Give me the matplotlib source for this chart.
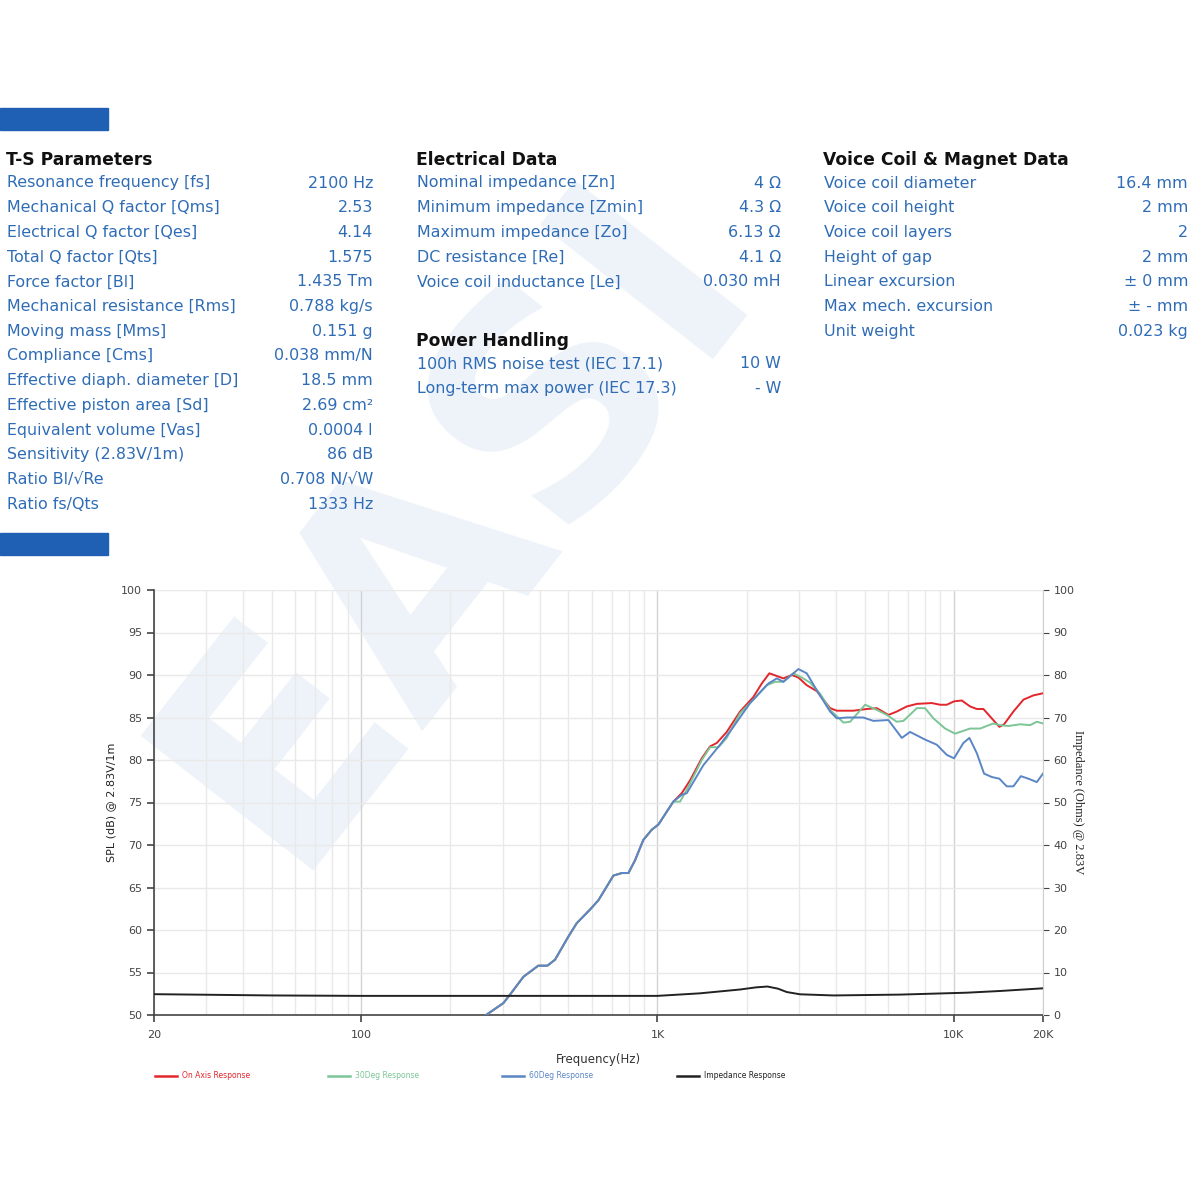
import numpy as np
import matplotlib
matplotlib.use("Agg")
from matplotlib import pyplot as plt
from matplotlib.lines import Line2D

# ---- data ----
ts_labels = ["Resonance frequency [fs]", "Mechanical Q factor [Qms]", "Electrical Q factor [Qes]",
             "Total Q factor [Qts]", "Force factor [Bl]", "Mechanical resistance [Rms]",
             "Moving mass [Mms]", "Compliance [Cms]", "Effective diaph. diameter [D]",
             "Effective piston area [Sd]", "Equivalent volume [Vas]", "Sensitivity (2.83V/1m)",
             "Ratio Bl/\u221aRe", "Ratio fs/Qts"]
ts_values = ["2100 Hz", "2.53", "4.14", "1.575", "1.435 Tm", "0.788 kg/s", "0.151 g",
             "0.038 mm/N", "18.5 mm", "2.69 cm\u00b2", "0.0004 l", "86 dB",
             "0.708 N/\u221aW", "1333 Hz"]
el_labels = ["Nominal impedance [Zn]", "Minimum impedance [Zmin]", "Maximum impedance [Zo]",
             "DC resistance [Re]", "Voice coil inductance [Le]"]
el_values = ["4 \u03a9", "4.3 \u03a9", "6.13 \u03a9", "4.1 \u03a9", "0.030 mH"]
pw_labels = ["100h RMS noise test (IEC 17.1)", "Long-term max power (IEC 17.3)"]
pw_values = ["10 W", "- W"]
vc_labels = ["Voice coil diameter", "Voice coil height", "Voice coil layers", "Height of gap",
             "Linear excursion", "Max mech. excursion", "Unit weight"]
vc_values = ["16.4 mm", "2 mm", "2", "2 mm", "\u00b1 0 mm", "\u00b1 - mm", "0.023 kg"]

# common low-frequency part (all three responses overlap there)
freq_low = [264, 302, 318, 353, 396, 425, 451, 500, 534, 592, 632, 710, 758, 798, 840,
            896, 957, 1007, 1131]
spl_low = [50.0, 51.4, 52.4, 54.5, 55.8, 55.8, 56.5, 59.2, 60.8, 62.4, 63.5, 66.4, 66.7,
           66.7, 68.2, 70.6, 71.8, 72.4, 75.1]

freq_on = [1208, 1288, 1411, 1505, 1585, 1713, 1900, 2106, 2249, 2386, 2660, 2840, 2990,
           3190, 3450, 3630, 3824, 4030, 4583, 5087, 5498, 6016, 6420, 6940, 7502, 8428,
           8988, 9470, 10020, 10640, 11350, 11960, 12590, 13430, 14250, 14780, 15890,
           17180, 18560, 20000]
spl_on = [76.1, 77.6, 80.2, 81.6, 82.0, 83.3, 85.7, 87.4, 89.0, 90.2, 89.6, 90.0, 89.7,
          88.8, 88.1, 87.1, 86.1, 85.8, 85.8, 86.0, 86.1, 85.3, 85.7, 86.3, 86.6, 86.7,
          86.5, 86.5, 86.9, 87.0, 86.3, 86.0, 86.0, 84.9, 83.9, 84.2, 85.7, 87.1, 87.6, 87.85]

freq_30 = [1192, 1256, 1411, 1505, 1605, 1713, 1900, 2106, 2338, 2494, 2660, 2875, 3070,
           3274, 3538, 3824, 4242, 4468, 5020, 5498, 5942, 6420, 6760, 7502, 8002, 8534,
           9348, 10100, 11350, 12270, 13600, 14330, 15280, 16740, 18090, 19060, 20000]
spl_30 = [75.1, 76.5, 80.0, 81.5, 81.5, 82.6, 85.5, 87.1, 88.8, 89.2, 89.2, 90.2, 89.7,
          89.1, 87.8, 85.9, 84.4, 84.5, 86.5, 85.9, 85.3, 84.5, 84.6, 86.1, 86.1, 84.9,
          83.7, 83.1, 83.7, 83.7, 84.3, 84.1, 84.0, 84.2, 84.1, 84.5, 84.3]

freq_60 = [1208, 1256, 1429, 1627, 1804, 2054, 2368, 2528, 2660, 2990, 3190, 3450, 3824,
           4030, 4354, 4952, 5354, 6016, 6676, 7120, 8002, 8762, 9470, 10020, 10770, 11290,
           11960, 12650, 13430, 14250, 15090, 15890, 16840, 17860, 19060, 20000]
spl_60 = [75.9, 76.1, 79.4, 81.8, 83.9, 86.7, 89.0, 89.6, 89.2, 90.7, 90.2, 88.2, 85.7,
          84.9, 85.0, 85.0, 84.6, 84.7, 82.6, 83.3, 82.4, 81.8, 80.6, 80.2, 82.0, 82.6,
          80.8, 78.4, 78.0, 77.8, 76.9, 76.9, 78.1, 77.8, 77.4, 78.4]

imp_freq = [20, 50, 100, 300, 1000, 1392, 1900, 2150, 2350, 2550, 2732, 3030, 3924, 6590,
            11060, 14330, 20000]
imp_ohm = [4.9, 4.6, 4.5, 4.5, 4.5, 5.1, 6.0, 6.5, 6.7, 6.2, 5.4, 4.87, 4.6, 4.8, 5.25,
           5.65, 6.28]

legend_names = ["On Axis Response", "30Deg Response", "60Deg Response", "Impedance Response"]
colors = ["#e2262b", "#7cc596", "#5b86c5", "#222222"]

BLUE_TXT = "#2f6cb6"
W, H = 1200, 1200

fig = plt.figure(figsize=(12, 12), dpi=100)


def fx(px):
    return px / W


def fy(py):
    return 1 - py / H


# faint watermark behind everything
fig.text(fx(455), fy(520), "EASI", rotation=52, fontsize=215, fontweight="bold",
         color="#eef3fa", ha="center", va="center", zorder=-5)

# blue header bars
for ytop in (108, 533):
    fig.patches.append(plt.Rectangle((0, fy(ytop + 22)), fx(108), 22 / H,
                                     transform=fig.transFigure, color="#1f5fb4", zorder=1))


def table(x_lab, x_val, y_title, title, labels, values):
    fig.text(fx(x_lab - 1), fy(y_title), title, fontsize=12.3, fontweight="bold",
             color="#111111", va="center")
    for i, (lab, val) in enumerate(zip(labels, values)):
        yy = fy(y_title + 23 + 24.7 * i)
        fig.text(fx(x_lab), yy, lab, fontsize=11.4, color=BLUE_TXT, va="center")
        fig.text(fx(x_val), yy, val, fontsize=11.4, color=BLUE_TXT, va="center", ha="right")


table(7, 373, 160, "T-S Parameters", ts_labels, ts_values)
table(417, 781, 160, "Electrical Data", el_labels, el_values)
table(417, 781, 341, "Power Handling", pw_labels, pw_values)
table(824, 1188, 160, "Voice Coil & Magnet Data", vc_labels, vc_values)

# ---- chart ----
ax = fig.add_axes([fx(154), fy(1015), fx(1043 - 154), (1015 - 590) / H])
ax.patch.set_alpha(0)
ax.set_xscale("log")
ax.set_xlim(20, 20000)
ax.set_ylim(50, 100)

minor = [m * 10 ** e for e in range(1, 5) for m in range(1, 10)]
for v in minor:
    if 20 <= v <= 20000:
        ax.axvline(v, color="#d2d2d2" if v in (100, 1000, 10000) else "#e9e9e9",
                   lw=1, zorder=0)
for v in range(55, 101, 5):
    ax.axhline(v, color="#e9e9e9", lw=1, zorder=0)

ax.plot(freq_low + freq_on, spl_low + spl_on, color=colors[0], lw=1.4, zorder=3)
ax.plot(freq_low + freq_30, spl_low + spl_30, color=colors[1], lw=1.4, zorder=4)
ax.plot(freq_low + freq_60, spl_low + spl_60, color=colors[2], lw=1.4, zorder=5)

ax.set_xticks([20, 100, 1000, 10000, 20000])
ax.set_xticklabels(["20", "100", "1K", "10K", "20K"])
ax.xaxis.set_minor_locator(matplotlib.ticker.NullLocator())
ax.set_yticks(range(50, 101, 5))
ax.tick_params(axis="both", labelsize=8, colors="#444444", length=5, width=1.2)
ax.tick_params(axis="x", pad=6)
for s in ("left", "bottom"):
    ax.spines[s].set_color("#444444")
    ax.spines[s].set_linewidth(1.2)
ax.spines["top"].set_visible(False)
ax.spines["right"].set_visible(False)
ax.set_xlabel("Frequency(Hz)", fontsize=8.5, color="#333333", labelpad=9)
ax.set_ylabel("SPL (dB) @ 2.83V/1m", fontsize=8, color="#222222", labelpad=4)

ax2 = ax.twinx()
ax2.set_ylim(0, 100)
ax2.plot(imp_freq, imp_ohm, color=colors[3], lw=1.4, zorder=6)
ax2.set_yticks(range(0, 101, 10))
ax2.tick_params(axis="y", labelsize=8, colors="#444444", length=4, width=0.8)
ax2.spines["right"].set_color("#cfcfcf")
for s in ("left", "bottom", "top"):
    ax2.spines[s].set_visible(False)
ax2.set_ylabel("Impedance (Ohms) @ 2.83V", fontsize=9, family="Liberation Serif",
               color="#222222", rotation=270, labelpad=7)

# legend
leg_x = [155, 328, 502, 677]
for x0, name, c in zip(leg_x, legend_names, colors):
    fig.add_artist(Line2D([fx(x0), fx(x0 + 22)], [fy(1076), fy(1076)], color=c, lw=1.8,
                          transform=fig.transFigure))
    fig.text(fx(x0 + 27), fy(1076), name, fontsize=5.5, color=c, va="center")

fig.savefig("out.png", dpi=100)
